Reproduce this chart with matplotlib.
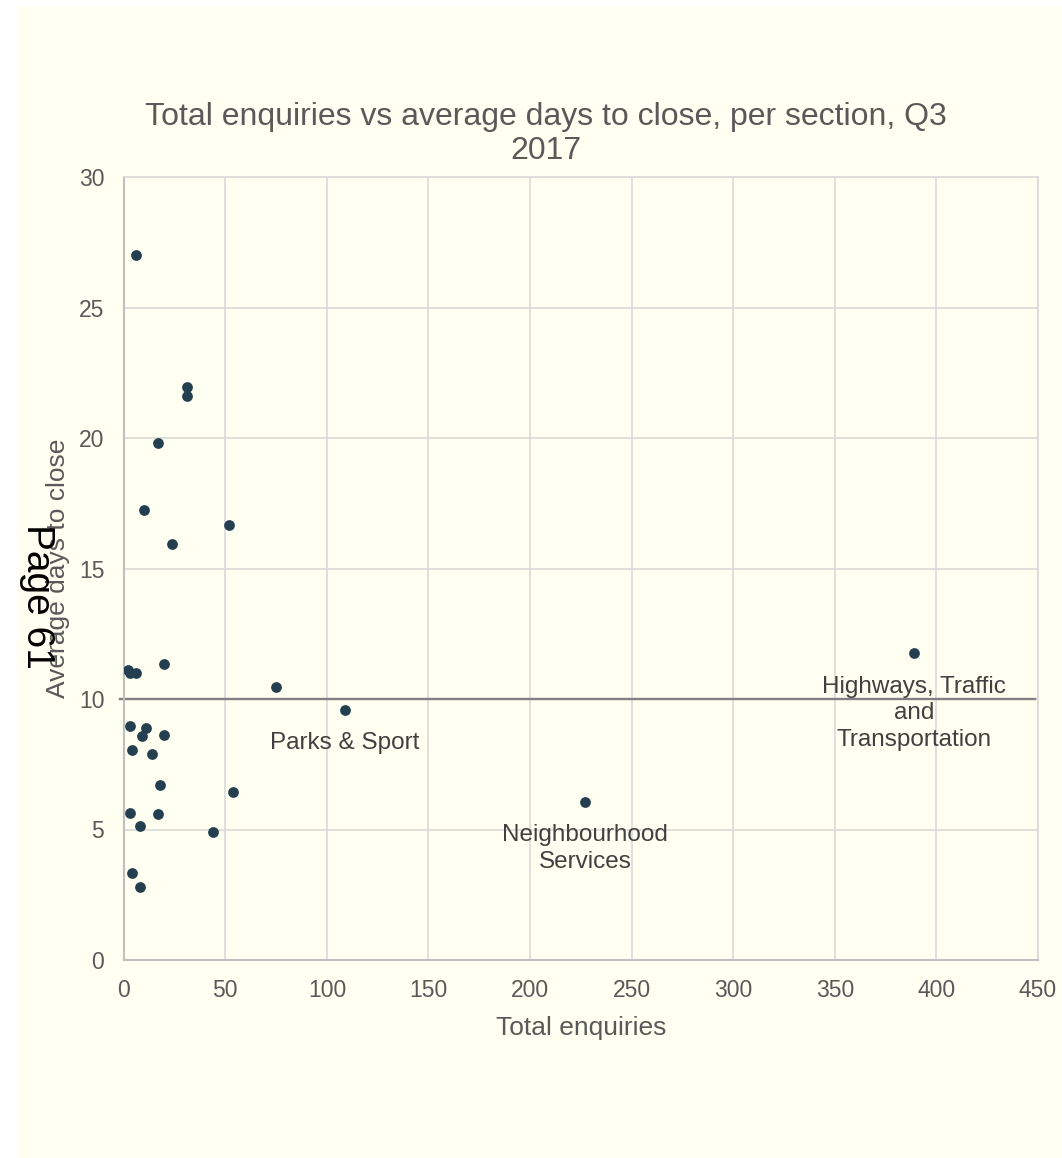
import matplotlib.pyplot as plt
from matplotlib.patches import Rectangle

# Total enquiries and average days to close per section, Q3 2017
enquiries = [6, 31, 31, 17, 10, 52, 24,
             2, 3, 6, 20, 75, 109, 389,
             3, 11, 9, 20, 4, 14, 18, 54, 3, 17, 8, 44, 4, 8,
             227]
avg_days = [27.0, 21.95, 21.6, 19.8, 17.25, 16.65, 15.95,
            11.12, 11.0, 11.0, 11.35, 10.45, 9.57, 11.77,
            8.98, 8.9, 8.6, 8.63, 8.05, 7.9, 6.7, 6.42, 5.65, 5.6, 5.13, 4.9, 3.33, 2.78,
            6.05]

target_days = 10

labelled = [
    ("Parks & Sport", 109, 8.3),
    ("Neighbourhood\nServices", 227, 4.27),
    ("Highways, Traffic\nand\nTransportation", 389, 9.45),
]

x_ticks = list(range(0, 451, 50))
y_ticks = list(range(0, 31, 5))

BG = "#FFFFF2"
GRID = "#D9D9D9"
TXT = "#595959"

plt.rcParams["font.family"] = ["Liberation Sans", "DejaVu Sans"]

fig = plt.figure(figsize=(10.62, 11.58), dpi=100)
fig.patch.set_facecolor("white")
fig.patches.append(Rectangle((18 / 1062, 0), 1 - 18 / 1062, 1 - 6 / 1158,
                             transform=fig.transFigure, facecolor=BG,
                             edgecolor="none", zorder=-10))

ax = fig.add_axes([123.7 / 1062, 198 / 1158, (1038 - 123.7) / 1062, 783 / 1158])
ax.set_facecolor(BG)
ax.set_xlim(0, 450)
ax.set_ylim(0, 30)
ax.set_xticks(x_ticks)
ax.set_yticks(y_ticks)
ax.grid(True, color=GRID, linewidth=1.2, zorder=0)
ax.set_axisbelow(True)
ax.tick_params(length=0, labelsize=16.5, colors=TXT, pad=14)
for side in ("top", "right"):
    ax.spines[side].set_color(GRID)
    ax.spines[side].set_linewidth(1.2)
for side in ("left", "bottom"):
    ax.spines[side].set_color("#BFBFBF")
    ax.spines[side].set_linewidth(1.5)

ax.axhline(target_days, xmin=-0.004, xmax=0.997, color="#808080",
           linewidth=1.7, clip_on=False, zorder=2)
ax.scatter(enquiries, avg_days, s=60, color="#243F4F", zorder=3,
           linewidths=0)

for text, x, y in labelled:
    ax.text(x, y, text, ha="center", va="center", fontsize=17.5,
            color="#404040", linespacing=1.27, zorder=4)

fig.text(546 / 1062, 1 - 134 / 1158,
         "Total enquiries vs average days to close, per section, Q3\n2017",
         ha="center", va="center", fontsize=23, color=TXT, linespacing=1.18)
ax.set_xlabel("Total enquiries", fontsize=19, color=TXT, labelpad=10)
ax.set_ylabel("Average days to close", fontsize=19, color=TXT, labelpad=6)

fig.text(37 / 1062, 1 - 596 / 1158, "Page 61", rotation=-90, ha="center",
         va="center", fontsize=28, color="black")

fig.savefig("out.png", dpi=100, facecolor=fig.get_facecolor())
